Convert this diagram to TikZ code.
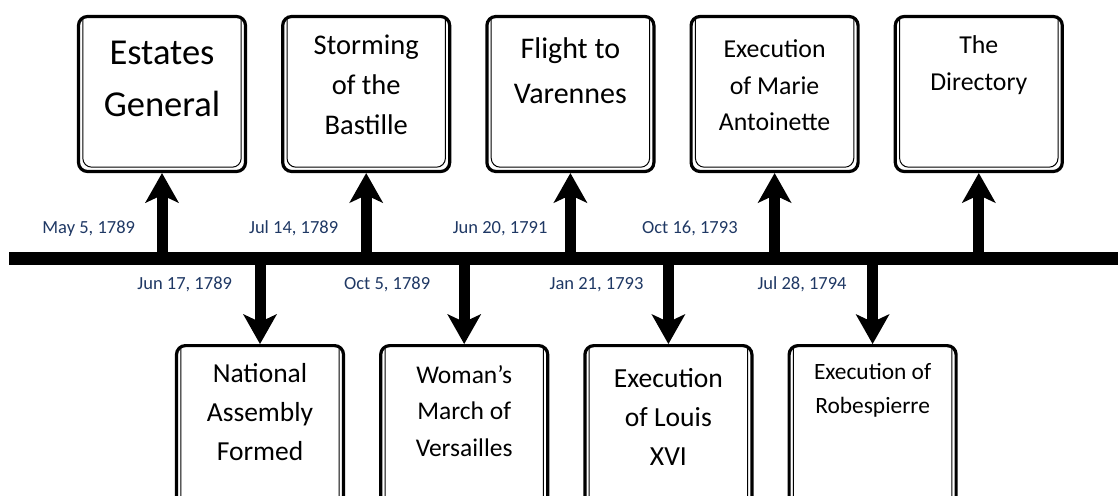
\documentclass[tikz,border=0pt]{standalone}
\usepackage{fontspec}
\setmainfont{Carlito}
\usetikzlibrary{positioning, arrows.meta}
\definecolor{datecol}{RGB}{31,56,100}
\tikzset{
  evbox/.style={draw=black, line width=3.2pt, rounded corners=9pt, fill=white,
    minimum width=167pt, inner sep=0pt,
    path picture={\draw[line width=1pt]
      ([shift={(4.3pt,-3pt)}]path picture bounding box.north west) --
      ([shift={(4.3pt,4.3pt)}]path picture bounding box.south west) --
      ([shift={(-4.3pt,4.3pt)}]path picture bounding box.south east) --
      ([shift={(-4.3pt,-3pt)}]path picture bounding box.north east);}},
  upbox/.style={evbox, minimum height=155pt},
  lowbox/.style={evbox, minimum height=165pt},
  evtext/.style={align=center, inner sep=0pt},
  date/.style={text=datecol, inner sep=0pt, outer sep=0pt, font=\fontsize{18.5}{22}\selectfont},
  evarrow/.style={line width=11pt, -{Stealth[length=30pt, width=34pt, inset=8pt, line width=0pt]}},
  timeline/.style={line width=13pt}
}

\begin{document}
\begin{tikzpicture}[x=1pt, y=1pt, node distance=34pt]
\useasboundingbox (0,0) rectangle (1118,-495);
\coordinate (barL) at (9,-258);
\coordinate (barR) at (1118,-258);
\draw[timeline] (barL) -- (barR);

\node[upbox](estates) at (162,-94){};
\node[upbox, right=of estates](bastille){};
\node[upbox, right=of bastille](varennes){};
\node[upbox, right=of varennes](marie){};
\node[upbox, right=of marie](directory){};

\node[lowbox, anchor=north](assembly) at (260,-344){};
\node[lowbox, right=of assembly](march){};
\node[lowbox, right=of march](louis){};
\node[lowbox, right=of louis](robespierre){};

\node[evtext, font=\fontsize{36.5}{52}\selectfont, below=26pt of estates.north](estatesT){Estates\\General};
\node[evtext, font=\fontsize{28.5}{40}\selectfont, below=20pt of bastille.north](bastilleT){Storming\\of the\\Bastille};
\node[evtext, font=\fontsize{30}{45}\selectfont, below=23pt of varennes.north](varennesT){Flight to\\Varennes};
\node[evtext, font=\fontsize{25.8}{36.5}\selectfont, below=25pt of marie.north](marieT){Execution\\of Marie\\Antoinette};
\node[evtext, font=\fontsize{25.8}{37}\selectfont, below=20pt of directory.north](directoryT){The\\Directory};

\node[evtext, font=\fontsize{27.5}{39}\selectfont, below=19pt of assembly.north](assemblyT){National\\Assembly\\Formed};
\node[evtext, font=\fontsize{25.5}{36.5}\selectfont, below=21pt of march.north](marchT){Woman’s\\March of\\Versailles};
\node[evtext, font=\fontsize{27.6}{39}\selectfont, below=24pt of louis.north](louisT){Execution\\of Louis\\XVI};
\node[evtext, font=\fontsize{23.4}{34}\selectfont, below=19pt of robespierre.north](robespierreT){Execution of\\Robespierre};

\draw[evarrow] (estates.south |- barL) -- node[date, pos=.35, left=27pt]{May 5, 1789} (estates.south);
\draw[evarrow] (bastille.south |- barL) -- node[date, pos=.35, left=28pt]{Jul 14, 1789} (bastille.south);
\draw[evarrow] (varennes.south |- barL) -- node[date, pos=.35, left=23pt]{Jun 20, 1791} (varennes.south);
\draw[evarrow] (marie.south |- barL) -- node[date, pos=.35, left=37pt]{Oct 16, 1793} (marie.south);
\draw[evarrow] (directory.south |- barL) -- (directory.south);

\draw[evarrow] (assembly.north |- barL) -- node[date, pos=.31, left=28pt]{Jun 17, 1789} (assembly.north);
\draw[evarrow] (march.north |- barL) -- node[date, pos=.31, left=34pt]{Oct 5, 1789} (march.north);
\draw[evarrow] (louis.north |- barL) -- node[date, pos=.31, left=25pt]{Jan 21, 1793} (louis.north);
\draw[evarrow] (robespierre.north |- barL) -- node[date, pos=.31, left=26pt]{Jul 28, 1794} (robespierre.north);
\end{tikzpicture}
\end{document}
